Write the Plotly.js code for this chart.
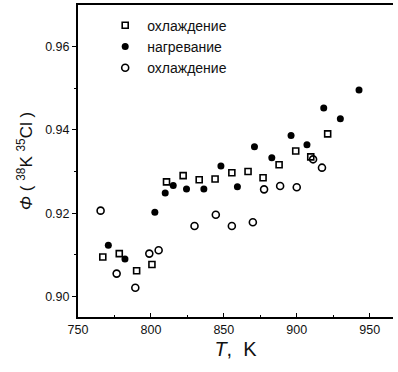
<!DOCTYPE html>
<html>
<head>
<meta charset="utf-8">
<script src="https://cdn.plot.ly/plotly-3.0.1.min.js"></script>
<style>html,body{margin:0;padding:0;background:#fff}#chart{width:398px;height:372px}</style>
</head>
<body>
<div id="chart"></div>
<script>
// Series 1: cooling (open squares)
const coolSqT = [767, 778.3, 790.2, 800.7, 810.7, 822.1, 833.1, 844, 855.5, 866.6, 876.9, 887.9, 899.3, 909.6, 921.2];
const coolSqPhi = [0.9095, 0.9103, 0.9062, 0.9077, 0.9275, 0.9290, 0.9280, 0.9282, 0.9297, 0.9300, 0.9285, 0.9316, 0.9349, 0.9335, 0.9390];
// Series 2: heating (filled circles)
const heatT = [770.8, 782.2, 802.7, 809.8, 815.3, 824.4, 836.3, 848, 859.3, 871, 882.9, 896.1, 907, 918.5, 929.9, 942.7];
const heatPhi = [0.9123, 0.9090, 0.9202, 0.9248, 0.9266, 0.9258, 0.9258, 0.9313, 0.9263, 0.9359, 0.9333, 0.9386, 0.9364, 0.9452, 0.9426, 0.9495];
// Series 3: cooling (open circles)
const coolCiT = [765.5, 776.5, 789.3, 798.9, 805.3, 829.9, 844.5, 855.5, 869.9, 877.6, 888.6, 900, 911.2, 917.3];
const coolCiPhi = [0.9206, 0.9055, 0.9021, 0.9103, 0.9111, 0.9169, 0.9196, 0.9169, 0.9178, 0.9257, 0.9265, 0.9262, 0.9329, 0.9309];
const names = ['охлаждение', 'нагревание', 'охлаждение'];
const xTicks = [750, 800, 850, 900, 950];
const yTicks = [0.90, 0.92, 0.94, 0.96];
const yTickText = ['0.90', '0.92', '0.94', '0.96'];

const traces = [
  {x: coolSqT, y: coolSqPhi, name: names[0], mode: 'markers', type: 'scatter',
   marker: {symbol: 'square-open', size: 6, color: '#000', line: {width: 1.6, color: '#000'}}},
  {x: heatT, y: heatPhi, name: names[1], mode: 'markers', type: 'scatter',
   marker: {symbol: 'circle', size: 7, color: '#000'}},
  {x: coolCiT, y: coolCiPhi, name: names[2], mode: 'markers', type: 'scatter',
   marker: {symbol: 'circle-open', size: 7, color: '#000', line: {width: 1.6, color: '#000'}}}
];

const layout = {
  width: 398, height: 372,
  margin: {l: 78, r: 5, t: 5, b: 55},
  paper_bgcolor: '#fff', plot_bgcolor: '#fff',
  font: {family: 'Liberation Sans, Arial, sans-serif', size: 12, color: '#111'},
  showlegend: true,
  legend: {x: 0.08, y: 0.985, xanchor: 'left', yanchor: 'top', bgcolor: 'rgba(0,0,0,0)',
           font: {size: 14, color: '#111'}, itemwidth: 34, tracegroupgap: 0},
  xaxis: {
    range: [750, 966], tickvals: xTicks, ticktext: xTicks.map(String),
    ticks: 'inside', ticklen: 4, tickwidth: 1, tickcolor: '#000',
    minor: {dtick: 25, tick0: 750, ticks: 'inside', ticklen: 2, tickcolor: '#000'},
    showline: true, linecolor: '#000', linewidth: 2, mirror: true,
    showgrid: false, zeroline: false,
    tickfont: {size: 12.5, color: '#111'},
    title: {text: '<i>T</i>,  K', font: {size: 20, color: '#111'}, standoff: 6}
  },
  yaxis: {
    range: [0.8951, 0.9699], tickvals: yTicks, ticktext: yTickText,
    ticks: 'outside', ticklen: 4, tickwidth: 1, tickcolor: '#000',
    minor: {dtick: 0.01, tick0: 0.90, ticks: 'outside', ticklen: 2, tickcolor: '#000'},
    showline: true, linecolor: '#000', linewidth: 2, mirror: false,
    showgrid: false, zeroline: false,
    tickfont: {size: 12.5, color: '#111'},
    title: {text: '<i>Φ</i> ( <sup>38</sup>K <sup>35</sup>Cl )', font: {size: 17, color: '#111'}, standoff: 8}
  }
};

Plotly.newPlot('chart', traces, layout, {displayModeBar: false, staticPlot: true});
</script>
</body>
</html>
